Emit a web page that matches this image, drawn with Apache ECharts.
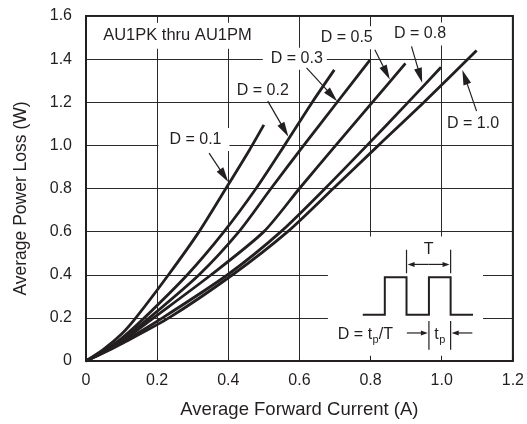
<!DOCTYPE html>
<html><head><meta charset="utf-8">
<script src="https://cdn.jsdelivr.net/npm/echarts@6/dist/echarts.min.js"></script>
<style>html,body{margin:0;padding:0;background:#fff}#c{width:527px;height:424px}</style>
</head><body><div id="c"></div>
<script>
// ---- data ----
const xTicks = [0, 0.2, 0.4, 0.6, 0.8, 1.0, 1.2];
const yTicks = [0, 0.2, 0.4, 0.6, 0.8, 1.0, 1.2, 1.4, 1.6];
const curveNames = ['D = 0.1', 'D = 0.2', 'D = 0.3', 'D = 0.5', 'D = 0.8', 'D = 1.0'];
const d01 = [[0,0],[0.05,0.055],[0.1,0.125],[0.14,0.2],[0.232,0.4],[0.318,0.6],[0.397,0.81],[0.46,0.98],[0.5,1.095]];
const d02 = [[0,0],[0.05,0.047],[0.1,0.105],[0.164,0.2],[0.285,0.4],[0.388,0.6],[0.478,0.8],[0.558,1.0],[0.636,1.2],[0.698,1.35]];
const d03 = [[0,0],[0.05,0.045],[0.1,0.097],[0.178,0.2],[0.318,0.4],[0.43,0.6],[0.52,0.8],[0.612,1.0],[0.706,1.2],[0.798,1.395]];
const d05 = [[0,0],[0.05,0.042],[0.1,0.09],[0.19,0.2],[0.352,0.4],[0.5,0.6],[0.6,0.8],[0.702,1.0],[0.8,1.19],[0.898,1.38]];
const d08 = [[0,0],[0.05,0.04],[0.1,0.085],[0.215,0.2],[0.398,0.4],[0.548,0.6],[0.672,0.8],[0.79,1.0],[0.9,1.19],[0.998,1.362]];
const d10 = [[0,0],[0.05,0.038],[0.1,0.08],[0.233,0.2],[0.412,0.4],[0.567,0.6],[0.695,0.8],[0.822,1.0],[0.95,1.2],[1.098,1.44]];
const curves = [d01, d02, d03, d05, d08, d10];
const titleText = 'AU1PK thru AU1PM';
const xTitle = 'Average Forward Current (A)';
const yTitle = 'Average Power Loss (W)';

// ---- annotation layout (data coordinates) ----
const labelAt = [[0.3035,1.027],[0.497,1.254],[0.587,1.402],[0.733,1.499],[0.939,1.517],[1.088,1.102]];
const arrowFrom = [[0.346,0.964],[0.511,1.205],[0.620,1.359],[0.812,1.443],[0.915,1.459],[1.098,1.159]];
const arrowTo = [[0.400,0.83],[0.569,1.04],[0.706,1.205],[0.854,1.305],[0.945,1.29],[1.058,1.35]];
const labelPad = [[3,8,4,11],[2,3,2,3],[3,4,3,8],[3,4,4,4],[3,4,4,4],[2,3,2,3]];

const ink = '#231f20';
const FF = "'Liberation Sans', Arial, Helvetica, sans-serif";
const fmt = v => v === 0 ? '0' : v.toFixed(1);

const chart = echarts.init(document.getElementById('c'));
chart.setOption({
  animation: false,
  grid: {left: 86, right: 14, top: 16, bottom: 61, show: true, borderColor: ink, borderWidth: 2},
  xAxis: {
    type: 'value', min: xTicks[0], max: xTicks[xTicks.length-1], interval: 0.2,
    name: xTitle, nameLocation: 'middle', nameGap: 39,
    nameTextStyle: {fontSize: 18.5, color: ink, fontFamily: FF},
    axisLine: {show: true, lineStyle: {color: ink, width: 2}},
    axisTick: {show: true, inside: true, length: 5, lineStyle: {color: ink, width: 1}},
    axisLabel: {formatter: fmt, fontSize: 16, color: ink, fontFamily: FF, margin: 12},
    splitLine: {show: true, lineStyle: {color: '#2a2a2a', width: 1}}
  },
  yAxis: {
    type: 'value', min: yTicks[0], max: yTicks[yTicks.length-1], interval: 0.2,
    name: yTitle, nameLocation: 'middle', nameGap: 56,
    nameTextStyle: {fontSize: 17.5, color: ink, fontFamily: FF, padding: [0, 20, 0, 0]},
    axisLine: {show: true, lineStyle: {color: ink, width: 2}},
    axisTick: {show: false},
    axisLabel: {formatter: fmt, fontSize: 16, color: ink, fontFamily: FF, margin: 14},
    splitLine: {show: true, lineStyle: {color: '#2a2a2a', width: 1}}
  },
  series: curves.map((d, i) => ({
    name: curveNames[i], type: 'line', data: d, showSymbol: false,
    smooth: 0.25, z: 3,
    lineStyle: {color: ink, width: 2.8}
  }))
});

const P = (p) => chart.convertToPixel({gridIndex: 0}, p);
const mctx = document.createElement('canvas').getContext('2d');
const tw = (t, s) => { mctx.font = s + 'px ' + FF; return mctx.measureText(t).width; };

const els = [];
function text(t, pos, size, align, extra) {
  els.push({type: 'text', z: 10, x: pos[0], y: pos[1],
    style: Object.assign({text: t, fill: ink, fontSize: size, fontFamily: FF,
      align: align || 'center', verticalAlign: 'middle', textAlign: align || 'center', textVerticalAlign: 'middle'}, extra || {})});
}
function arrow(a, b, len, wid, lw) {
  const dx = b[0]-a[0], dy = b[1]-a[1], L = Math.hypot(dx, dy);
  const ux = dx/L, uy = dy/L;
  const bx = b[0]-ux*len, by = b[1]-uy*len;
  els.push({type: 'line', z: 10, shape: {x1: a[0], y1: a[1], x2: bx + ux*1, y2: by + uy*1}, style: {stroke: ink, lineWidth: lw}});
  els.push({type: 'polygon', z: 10, shape: {points: [[b[0], b[1]], [bx - uy*wid/2, by + ux*wid/2], [bx + uy*wid/2, by - ux*wid/2]]}, style: {fill: ink}});
}
function line(a, b, lw) { els.push({type: 'line', z: 10, shape: {x1: a[0], y1: a[1], x2: b[0], y2: b[1]}, style: {stroke: ink, lineWidth: lw}}); }

// title label
const tp0 = P([0.037, 1.508]);
text(titleText, tp0, 16.5, 'left', {backgroundColor: '#fff', padding: [3, 4, 6, 4]});

// curve labels and arrows
curveNames.forEach((n, i) => {
  text(n, P(labelAt[i]), 16, 'center', {backgroundColor: '#fff', padding: labelPad[i]});
  arrow(P(arrowFrom[i]), P(arrowTo[i]), 15, 8, 1.2);
});

// inset: duty-cycle diagram
const boxA = P([0.680, 0.577]), boxB = P([1.116, 0.024]);
els.push({type: 'rect', z: 9, shape: {x: boxA[0], y: boxA[1], width: boxB[0]-boxA[0], height: boxB[1]-boxA[1]}, style: {fill: '#fff'}});
const pulse = [[0.778,0.215],[0.840,0.215],[0.840,0.388],[0.901,0.388],[0.901,0.215],[0.964,0.215],[0.964,0.388],[1.025,0.388],[1.025,0.215],[1.088,0.215]];
els.push({type: 'polyline', z: 10, shape: {points: pulse.map(P)}, style: {stroke: ink, lineWidth: 2, fill: null}});
// T markers
line(P([0.901, 0.407]), P([0.901, 0.516]), 1.2);
line(P([1.025, 0.407]), P([1.025, 0.516]), 1.2);
const tL = P([0.904, 0.448]), tR = P([1.022, 0.448]);
const tM = [(tL[0]+tR[0])/2, tL[1]];
arrow(tM, tL, 7, 5, 1.2);
arrow(tM, tR, 7, 5, 1.2);
text('T', P([0.963, 0.517]), 16, 'center');
// D = tp/T
const eq = P([0.708, 0.121]);
const w1 = tw('D = t', 16), w2 = tw('p', 11);
text('D = t', eq, 16, 'left');
text('p', [eq[0] + w1 + 0.5, eq[1] + 5], 11, 'left');
text('/T', [eq[0] + w1 + w2 + 0.5, eq[1]], 16, 'left');
// tp markers
line(P([0.964, 0.186]), P([0.964, 0.052]), 1.2);
line(P([1.025, 0.186]), P([1.025, 0.052]), 1.2);
arrow(P([0.902, 0.130]), P([0.961, 0.130]), 7, 5, 1.2);
arrow(P([1.086, 0.130]), P([1.028, 0.130]), 7, 5, 1.2);
const tpc = P([0.994, 0.121]);
const wt = tw('t', 16);
text('t', [tpc[0] - (wt + w2)/2, tpc[1]], 16, 'left');
text('p', [tpc[0] - (wt + w2)/2 + wt + 0.5, tpc[1] + 5], 11, 'left');

chart.setOption({graphic: {elements: els}});
</script></body></html>
